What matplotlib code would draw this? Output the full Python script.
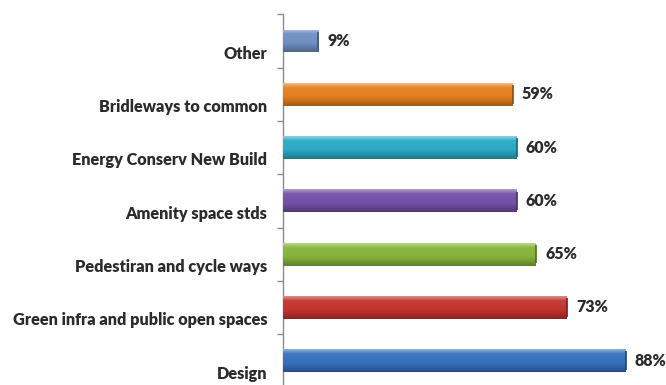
import matplotlib
matplotlib.use("Agg")
import matplotlib.pyplot as plt
import matplotlib.colors as mcolors
import numpy as np

# survey results, top to bottom
categories = ["Other", "Bridleways to common", "Energy Conserv New Build",
              "Amenity space stds", "Pedestiran and cycle ways",
              "Green infra and public open spaces", "Design"]
values = [9, 59, 60, 60, 65, 73, 88]
colours = ["#6f8fc4", "#e47f1e", "#2aa9c6", "#7450a6", "#86b23a", "#c3332f", "#3570bd"]
value_labels = ["9%", "59%", "60%", "60%", "65%", "73%", "88%"]

plt.rcParams["font.family"] = ["Lato", "DejaVu Sans"]

fig = plt.figure(figsize=(6.66, 3.85), dpi=100)
ax = fig.add_axes([0.4254, -0.0062, 1 - 0.4254, 0.969])

n = len(categories)
ypos = np.arange(n)
bars = ax.barh(ypos, values, height=0.43, color=colours, zorder=2)

# shaded "cylinder" look: light top edge, darker bottom
def shade(colour):
    base = np.array(mcolors.to_rgb(colour))
    t = np.linspace(0, 1, 64)
    prof = np.interp(t, [0, 0.08, 0.2, 0.6, 0.88, 1.0],
                     [0.45, 0.3, 0.05, 0.0, -0.2, -0.3])
    rows = []
    for p in prof:
        if p >= 0:
            rows.append(base + (1 - base) * p)
        else:
            rows.append(base * (1 + p))
    return np.array(rows)[:, None, :]

for b, c in zip(bars, colours):
    x0, y0 = b.get_x(), b.get_y()
    w, h = b.get_width(), b.get_height()
    img = ax.imshow(shade(c), extent=[x0, x0 + w, y0 + h, y0], aspect="auto",
                    interpolation="bilinear", zorder=3)
    img.set_clip_path(b)
    # darker end cap
    ax.plot([x0 + w, x0 + w], [y0 + 0.04, y0 + h - 0.04], color=np.array(mcolors.to_rgb(c)) * 0.6,
            lw=1.2, zorder=4, solid_capstyle="butt")

for y, v, lab in zip(ypos, values, value_labels):
    ax.text(v + 2.3, y, lab, va="center", ha="left", fontsize=11.5,
            fontweight="heavy", color="#2b2b2b")

# category names sit a little below each bar
for y, name in zip(ypos, categories):
    ax.text(-4.1, y + 0.24, name, va="center", ha="right", fontsize=11.7,
            fontweight="heavy", color="#2b2b2b", clip_on=False)

ax.set_ylim(n - 0.5, -0.5)
ax.set_xlim(0, 98.4)
ax.set_yticks(np.arange(n + 1) - 0.5)
ax.set_yticklabels([])
ax.tick_params(axis="y", direction="out", length=4, color="#8c8c8c", width=1)
ax.set_xticks([])
for s in ["top", "right", "bottom"]:
    ax.spines[s].set_visible(False)
ax.spines["left"].set_color("#8c8c8c")
ax.spines["left"].set_linewidth(1)

fig.savefig("out.png", dpi=100)
